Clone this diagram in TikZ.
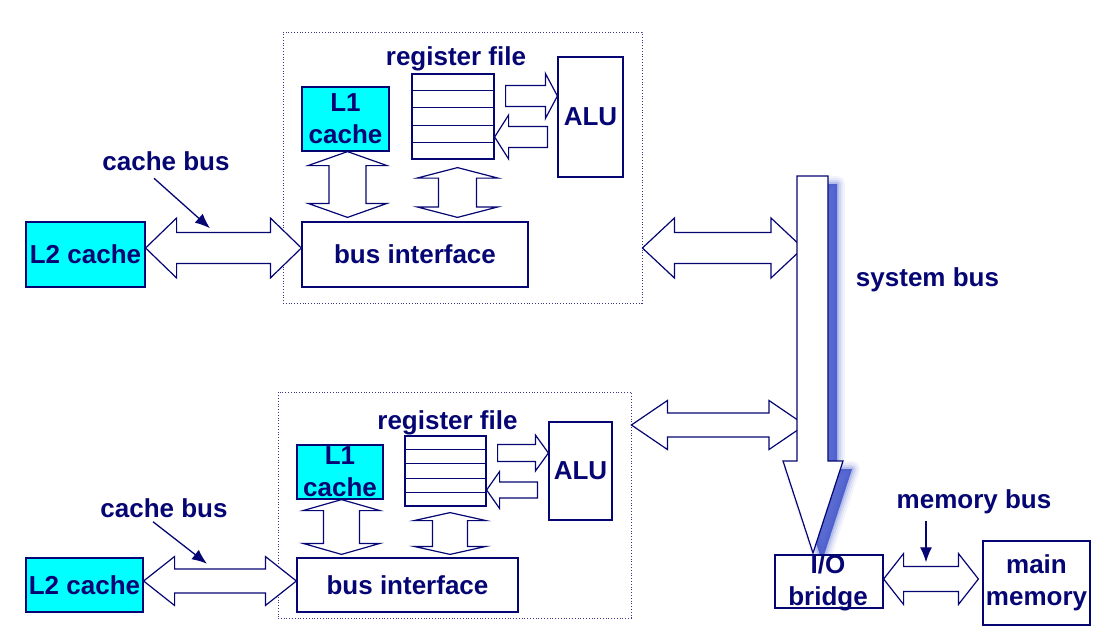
\documentclass[tikz,border=0pt]{standalone}
\usepackage{fontspec}
\setmainfont{Liberation Sans}
\usetikzlibrary{calc,arrows.meta}
\definecolor{navy}{RGB}{5,5,115}
\definecolor{cachecyan}{RGB}{0,255,255}
\definecolor{busglow}{RGB}{60,80,200}
\newcommand{\busfont}{\fontsize{26}{32}\selectfont\bfseries}
\tikzset{
 box/.style={draw=navy,line width=1.2pt,inner sep=0pt,text=navy,font=\busfont,align=center},
 cachebox/.style={box,fill=cachecyan},
 cpubox/.style={draw=navy!80,line width=0.8pt,dotted},
 lbl/.style={text=navy,font=\busfont,inner sep=0pt,align=center},
 blockarrow/.style={draw=navy,fill=white,line width=1.2pt},
 pointer/.style={draw=navy,line width=1.3pt,-{Latex[length=15pt,width=12pt]}},
}
%double block arrow: left tip, right tip, head length, head half width, shaft half width
\newcommand{\busH}[5]{\draw[blockarrow] let \p1=#1,\p2=#2 in (\x1,\y1) -- (\x1+#3,\y1+#4) -- (\x1+#3,\y1+#5) -- (\x2-#3,\y1+#5) -- (\x2-#3,\y1+#4) -- (\x2,\y1) -- (\x2-#3,\y1-#4) -- (\x2-#3,\y1-#5) -- (\x1+#3,\y1-#5) -- (\x1+#3,\y1-#4) -- cycle;}
%same, upright: top tip, bottom tip
\newcommand{\busV}[5]{\draw[blockarrow] let \p1=#1,\p2=#2 in (\x1,\y1) -- (\x1+#4,\y1-#3) -- (\x1+#5,\y1-#3) -- (\x1+#5,\y2+#3) -- (\x1+#4,\y2+#3) -- (\x1,\y2) -- (\x1-#4,\y2+#3) -- (\x1-#5,\y2+#3) -- (\x1-#5,\y1-#3) -- (\x1-#4,\y1-#3) -- cycle;}
%single block arrow: tail, tip, signed head length
\newcommand{\regH}[5]{\draw[blockarrow] let \p1=#1,\p2=#2,\n1={#3} in (\x1,\y2+#5) -- (\x2-\n1,\y2+#5) -- (\x2-\n1,\y2+#4) -- (\x2,\y2) -- (\x2-\n1,\y2-#4) -- (\x2-\n1,\y2-#5) -- (\x1,\y2-#5) -- cycle;}
\begin{document}
\begin{tikzpicture}[x=1pt,y=-1pt]
\useasboundingbox (0,0) rectangle (1115,642);
%processors
\node[cpubox,minimum width=359,minimum height=271] (cpuA) at (462.5,167.5) {};
\node[cpubox,minimum width=353,minimum height=226] (cpuB) at (454.5,505) {};
\node[cachebox,minimum width=87,minimum height=64] (l1A) at (345.5,119) {L1\\cache};
\node[cachebox,minimum width=86,minimum height=54] (l1B) at (340,472) {L1\\cache};
\node[box,minimum width=82,minimum height=85] (regA) at (453,116.5) {};
\node[box,minimum width=81,minimum height=70] (regB) at (445.5,471) {};
\foreach \r in {regA,regB}
  \foreach \k in {1,...,4}
    \draw[navy,line width=1.2pt] ($(\r.north west)!\k/5!(\r.south west)$) -- ($(\r.north east)!\k/5!(\r.south east)$);
\node[lbl] (rfA) at (456,59) {register file};
\node[lbl] (rfB) at (447.5,423) {register file};
\node[box,minimum width=65,minimum height=120] (aluA) at (590.5,117) {ALU};
\node[box,minimum width=63,minimum height=98] (aluB) at (580.5,471) {ALU};
\node[box,minimum width=226,minimum height=65] (biA) at (415,254.5) {bus interface};
\node[box,minimum width=221,minimum height=54] (biB) at (407.5,585) {bus interface};
%inside arrows
\regH{($(regA.east)+(11,0)$)}{(aluA.west |- 0,96)}{12pt}{22.5pt}{10.5pt}
\regH{($(aluA.west)+(-10,0)$)}{(regA.east |- 0,137)}{-14pt}{22pt}{10.5pt}
\regH{($(regB.east)+(11,0)$)}{(aluB.west |- 0,453)}{13pt}{18pt}{8.5pt}
\regH{($(aluB.west)+(-11,0)$)}{(regB.east |- 0,490)}{-13pt}{18.5pt}{8pt}
\busV{($(l1A.south)+(2,0)$)}{($(l1A.south |- biA.north)+(2,-4)$)}{14pt}{39.5pt}{18.5pt}
\busV{($(regA.south)+(4.5,8)$)}{($(regA.south |- biA.north)+(4.5,-4)$)}{10.5pt}{40.5pt}{19pt}
\busV{($(l1B.south)+(1.5,0)$)}{($(l1B.south |- biB.north)+(1.5,-3)$)}{11pt}{38.5pt}{18pt}
\busV{($(regB.south)+(4.5,6)$)}{($(regB.south |- biB.north)+(4.5,-3)$)}{8pt}{36pt}{17.5pt}
%L2 caches
\node[cachebox,minimum width=119,minimum height=65] (l2A) at (85.5,254.5) {L2 cache};
\node[cachebox,minimum width=117,minimum height=54] (l2B) at (84.5,585) {L2 cache};
\busH{(l2A.east |- 0,248)}{(biA.west |- 0,248)}{31pt}{30pt}{15.5pt}
\busH{(l2B.east |- 0,581)}{(biB.west |- 0,581)}{31pt}{24.5pt}{12pt}
\node[lbl] (cbA) at (166,161.5) {cache bus};
\node[lbl] (cbB) at (164,508.5) {cache bus};
\draw[pointer] ([xshift=-12pt,yshift=-7pt]cbA.south) -- ++(56,50);
\draw[pointer] ([xshift=-11pt,yshift=-3.5pt]cbB.south) -- ++(54,42);
%system bus
\coordinate (sbtop) at (812.5,176);
\busH{(cpuA.east |- 0,248)}{($(sbtop |- 0,248)+(-9.5,0)$)}{32pt}{30pt}{15.5pt}
\busH{(cpuB.east |- 0,425)}{($(sbtop |- 0,425)+(-7.5,0)$)}{36pt}{24.5pt}{12pt}
\begin{scope}
\clip (700,150) rectangle (900,554);
\foreach \w/\o in {16/0.06,12/0.08,8/0.12,4/0.18}
  \filldraw[busglow,opacity=\o,line width=\w pt,line join=round,shift={(9,8)}] (797,176) -- (828,176) -- (828,461) -- (843,461) -- (813,553) -- (783,461) -- (797,461) -- cycle;
\fill[busglow,opacity=0.75,shift={(9,8)}] (797,176) -- (828,176) -- (828,461) -- (843,461) -- (813,553) -- (783,461) -- (797,461) -- cycle;
\end{scope}
\draw[blockarrow] (797,176) -- (828,176) -- (828,461) -- (843,461) -- (813,553) -- (783,461) -- (797,461) -- cycle;
\node[lbl] (sbus) at (927.5,280) {system bus};
%memory side
\node[box,minimum width=108,minimum height=53] (ioB) at (829,581.5) {};
\node[lbl] (iotxt) at (828,582.5) {I/O\\bridge};
\node[box,minimum width=107,minimum height=84] (mem) at (1036.5,583) {main\\memory};
\busH{(ioB.east |- 0,579)}{($(mem.west |- 0,579)+(-4,0)$)}{20pt}{25.5pt}{12.5pt}
\node[lbl] (mbus) at (974,502) {memory bus};
\draw[pointer] ([xshift=-48pt,yshift=-7pt]mbus.south) -- ++(0,41);
\end{tikzpicture}
\end{document}
